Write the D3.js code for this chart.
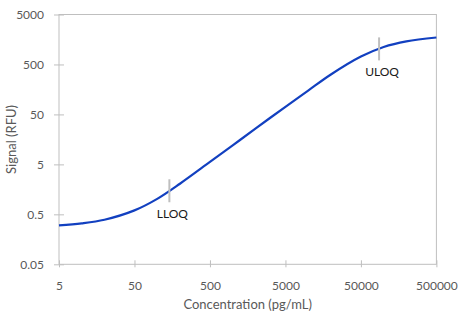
<!DOCTYPE html>
<html><head><meta charset="utf-8">
<script src="https://cdn.jsdelivr.net/npm/d3@7"></script>
<style>body{margin:0;background:#fff}svg{display:block}</style>
</head><body>
<svg id="c" width="467" height="325"></svg>
<script>
const concentration = [5, 10, 20, 50, 100, 200, 500, 1000, 2000, 5000, 10000, 20000, 50000, 100000, 200000, 500000];
const signal = [0.30, 0.33, 0.39, 0.60, 1.02, 2.05, 5.6, 12.0, 26.0, 71, 150, 315, 720, 1120, 1450, 1730];
const xTicks = [5, 50, 500, 5000, 50000, 500000];
const yTicks = [0.05, 0.5, 5, 50, 500, 5000];
const markerNames = ["LLOQ", "ULOQ"];
const markerConc = [145, 87000];

const svg = d3.select("#c");
const L = 59, R = 436.4, T = 14.5, B = 264.3;
const x = d3.scaleLog().domain([5, 500000]).range([L, R]);
const y = d3.scaleLog().domain([0.05, 5000]).range([B, T]);
const font = "Lato, 'Open Sans', sans-serif";
const grey = "#bfbfbf";

// frame
svg.append("rect").attr("x", L).attr("y", T).attr("width", R - L).attr("height", B - T)
  .attr("fill", "none").attr("stroke", grey).attr("stroke-width", 1);

// axes
const xAxis = d3.axisBottom(x).tickValues(xTicks).tickFormat(d3.format("d")).tickSizeInner(7).tickSizeOuter(0).tickPadding(14);
const gx = svg.append("g").attr("transform", `translate(0,${B - 4})`).call(xAxis);
gx.select(".domain").remove();
gx.selectAll(".tick line").attr("stroke", grey);
gx.selectAll(".tick text").attr("fill", "#595959").attr("font-size", 12).attr("font-family", font);

const yAxis = d3.axisLeft(y).tickValues(yTicks).tickFormat(d => String(d)).tickSizeInner(10).tickSizeOuter(0).tickPadding(10);
const gy = svg.append("g").attr("transform", `translate(${L + 5},0)`).call(yAxis);
gy.select(".domain").remove();
gy.selectAll(".tick line").attr("stroke", grey);
gy.selectAll(".tick text").attr("fill", "#595959").attr("font-size", 12).attr("font-family", font);

// titles
svg.append("text").attr("x", (L + R) / 2).attr("y", 309).attr("text-anchor", "middle")
  .attr("fill", "#595959").attr("font-size", 13).attr("font-family", font).text("Concentration (pg/mL)");
svg.append("text").attr("transform", `translate(16,${(T + B) / 2}) rotate(-90)`).attr("text-anchor", "middle")
  .attr("fill", "#595959").attr("font-size", 13).attr("font-family", font).text("Signal (RFU)");

// curve
const pts = concentration.map((c, i) => [c, signal[i]]);
const line = d3.line().x(d => x(d[0])).y(d => y(d[1])).curve(d3.curveCatmullRom.alpha(0.5));
svg.append("path").datum(pts).attr("d", line).attr("fill", "none")
  .attr("stroke", "#1240c0").attr("stroke-width", 2.2);

// markers
const interp = c => {
  const lx = Math.log10(c);
  for (let i = 0; i < concentration.length - 1; i++) {
    const a = Math.log10(concentration[i]), b = Math.log10(concentration[i + 1]);
    if (lx >= a && lx <= b) {
      const t = (lx - a) / (b - a);
      return Math.pow(10, Math.log10(signal[i]) * (1 - t) + Math.log10(signal[i + 1]) * t);
    }
  }
  return signal[signal.length - 1];
};
markerNames.forEach((name, i) => {
  const cx = x(markerConc[i]), cy = y(interp(markerConc[i]));
  svg.append("line").attr("x1", cx).attr("x2", cx).attr("y1", cy - 11.5).attr("y2", cy + 11.5)
    .attr("stroke", grey).attr("stroke-width", 2);
  svg.append("text").attr("x", cx + 3).attr("y", cy + 27).attr("text-anchor", "middle")
    .attr("fill", "#1a1a1a").attr("font-size", 12).attr("font-family", font).text(name);
});
</script>
</body></html>
